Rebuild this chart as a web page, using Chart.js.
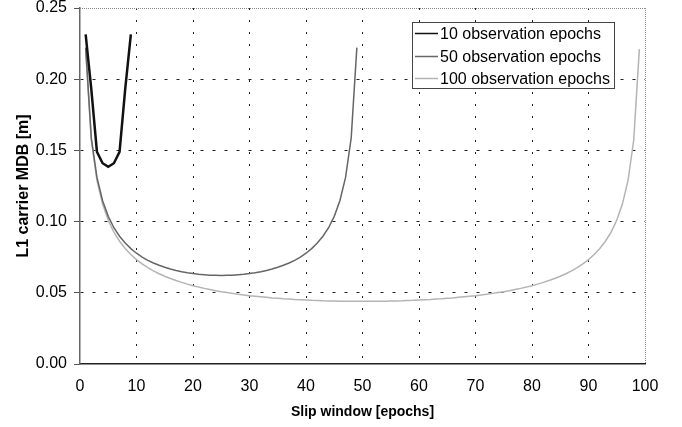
<!DOCTYPE html>
<html>
<head>
<meta charset="utf-8">
<script src="https://cdn.jsdelivr.net/npm/chart.js@4.4.1/dist/chart.umd.min.js"></script>
<style>
    body { margin: 0; background: #fff; }
    #box { width: 682px; height: 427px; }
</style>
</head>
<body>
<div id="box"><canvas id="mdbChart" width="682" height="427"></canvas></div>
<script>
// curve labels and values (one value per slip epoch, starting at epoch 1)
var seriesLabels = ['10 observation epochs', '50 observation epochs', '100 observation epochs'];

var mdb10 = [0.2315, 0.193, 0.149, 0.141, 0.1385, 0.141, 0.149, 0.193, 0.2315];

var mdb50 = [0.2222, 0.1588, 0.1310, 0.1147, 0.1037, 0.0957, 0.0897, 0.0849, 0.0810, 0.0778,
    0.0751, 0.0728, 0.0709, 0.0693, 0.0679, 0.0667, 0.0657, 0.0648, 0.0641, 0.0635,
    0.0630, 0.0627, 0.0624, 0.0623, 0.0622, 0.0623, 0.0624, 0.0627, 0.0630, 0.0635,
    0.0641, 0.0648, 0.0657, 0.0667, 0.0679, 0.0693, 0.0709, 0.0728, 0.0751, 0.0778,
    0.0810, 0.0849, 0.0897, 0.0957, 0.1037, 0.1147, 0.1310, 0.1588, 0.2222];

var mdb100 = [0.2211, 0.1571, 0.1290, 0.1123, 0.1009, 0.0926, 0.0862, 0.0811, 0.0769, 0.0733,
    0.0703, 0.0677, 0.0654, 0.0634, 0.0616, 0.0600, 0.0586, 0.0573, 0.0561, 0.0550,
    0.0540, 0.0531, 0.0523, 0.0515, 0.0508, 0.0502, 0.0496, 0.0490, 0.0485, 0.0480,
    0.0476, 0.0472, 0.0468, 0.0464, 0.0461, 0.0458, 0.0456, 0.0453, 0.0451, 0.0449,
    0.0447, 0.0446, 0.0444, 0.0443, 0.0442, 0.0441, 0.0441, 0.0440, 0.0440, 0.0440,
    0.0440, 0.0440, 0.0441, 0.0441, 0.0442, 0.0443, 0.0444, 0.0446, 0.0447, 0.0449,
    0.0451, 0.0453, 0.0456, 0.0458, 0.0461, 0.0464, 0.0468, 0.0472, 0.0476, 0.0480,
    0.0485, 0.0490, 0.0496, 0.0502, 0.0508, 0.0515, 0.0523, 0.0531, 0.0540, 0.0550,
    0.0561, 0.0573, 0.0586, 0.0600, 0.0616, 0.0634, 0.0654, 0.0677, 0.0703, 0.0733,
    0.0769, 0.0811, 0.0862, 0.0926, 0.1009, 0.1123, 0.1290, 0.1571, 0.2211];

var xTicks = [0, 10, 20, 30, 40, 50, 60, 70, 80, 90, 100];
var yTicks = [0, 0.05, 0.10, 0.15, 0.20, 0.25];

var fontFamily = '"Liberation Sans", Arial, Helvetica, sans-serif';
Chart.defaults.font.family = fontFamily;
Chart.defaults.color = '#000';

function toPoints(values) {
    var list = [];
    for (var i = 0; i < values.length; i++) {
        list.push({ x: i + 1, y: values[i] });
    }
    return list;
}

// grid lines on the edges are drawn by the axis / frame instead
function gridColor(edges) {
    return function (ctx) {
        if (ctx.tick && edges.indexOf(ctx.tick.value) !== -1) {
            return 'rgba(0,0,0,0)';
        }
        return '#222';
    };
}

// dotted frame on top and right of the plot
var plotFrame = {
    id: 'plotFrame',
    beforeDatasetsDraw: function (chart) {
        var ctx = chart.ctx;
        var a = chart.chartArea;
        ctx.save();
        ctx.strokeStyle = '#888';
        ctx.lineWidth = 1;
        ctx.setLineDash([1, 1]);
        ctx.beginPath();
        ctx.moveTo(a.left, Math.round(a.top) + 0.5);
        ctx.lineTo(a.right, Math.round(a.top) + 0.5);
        ctx.moveTo(Math.round(a.right) + 0.5, a.top);
        ctx.lineTo(Math.round(a.right) + 0.5, a.bottom);
        ctx.stroke();
        ctx.restore();
    }
};

// boxed legend inside the plot, upper right
var legendBox = {
    id: 'legendBox',
    afterDraw: function (chart) {
        var ctx = chart.ctx;
        var a = chart.chartArea;
        var left = Math.round(a.right - 233);
        var top = Math.round(a.top + 14);
        var w = 202;
        var h = 66;
        ctx.save();
        ctx.fillStyle = '#fff';
        ctx.fillRect(left, top, w, h);
        ctx.strokeStyle = '#444';
        ctx.lineWidth = 1;
        ctx.strokeRect(left + 0.5, top + 0.5, w, h);
        ctx.font = '16px ' + fontFamily;
        ctx.textBaseline = 'middle';
        chart.data.datasets.forEach(function (ds, i) {
            var y = Math.round(top + 11 + i * 22.5) + 0.5;
            ctx.strokeStyle = ds.borderColor;
            ctx.lineWidth = 1.5;
            ctx.beginPath();
            ctx.moveTo(left + 3, y);
            ctx.lineTo(left + 26, y);
            ctx.stroke();
            ctx.fillStyle = '#000';
            ctx.fillText(ds.label, left + 28, y + 1);
        });
        ctx.restore();
    }
};

const data = {
    datasets: [{
        label: seriesLabels[0],
        data: toPoints(mdb10),
        borderColor: '#111111',
        borderWidth: 2.5
    }, {
        label: seriesLabels[1],
        data: toPoints(mdb50),
        borderColor: '#666666',
        borderWidth: 1.5
    }, {
        label: seriesLabels[2],
        data: toPoints(mdb100),
        borderColor: '#b4b4b4',
        borderWidth: 1.5
    }]
};

const config = {
    type: 'line',
    data: data,
    options: {
        responsive: false,
        animation: false,
        events: [],
        layout: {
            padding: { left: 0, top: 0, right: 37, bottom: 0 }
        },
        elements: {
            point: { radius: 0 },
            line: { tension: 0, fill: false }
        },
        plugins: {
            legend: { display: false },
            tooltip: { enabled: false }
        },
        scales: {
            x: {
                type: 'linear',
                min: 0,
                max: 100,
                afterBuildTicks: function (scale) {
                    scale.ticks = xTicks.map(function (v) { return { value: v }; });
                },
                afterFit: function (scale) { scale.height = 63; },
                grid: { color: gridColor([0, 100]), drawTicks: false, lineWidth: 1 },
                border: { display: true, color: '#222', width: 1.5, dash: [2, 10] },
                ticks: { padding: 13, maxRotation: 0, font: { size: 16 } },
                title: {
                    display: true,
                    text: 'Slip window [epochs]',
                    font: { size: 14, weight: 'bold' },
                    padding: { top: 0, bottom: 6 }
                }
            },
            y: {
                type: 'linear',
                min: 0,
                max: 0.25,
                afterBuildTicks: function (scale) {
                    scale.ticks = yTicks.map(function (v) { return { value: v }; });
                },
                afterFit: function (scale) {
                    scale.width = 80;
                    scale.paddingTop = 8;
                    scale.paddingBottom = 0;
                },
                grid: { color: gridColor([0, 0.25]), drawTicks: true, tickLength: 6, tickColor: '#555', tickWidth: 1 },
                border: { display: true, color: '#666', width: 1.5, dash: [3, 9] },
                ticks: {
                    padding: 7,
                    font: { size: 16 },
                    callback: function (v) { return v.toFixed(2); }
                },
                title: {
                    display: true,
                    text: 'L1 carrier MDB [m]',
                    font: { size: 16, weight: 'bold' },
                    padding: { top: 14, bottom: 0 }
                }
            }
        }
    },
    plugins: [plotFrame, legendBox]
};

new Chart(document.getElementById('mdbChart'), config);
</script>
</body>
</html>
